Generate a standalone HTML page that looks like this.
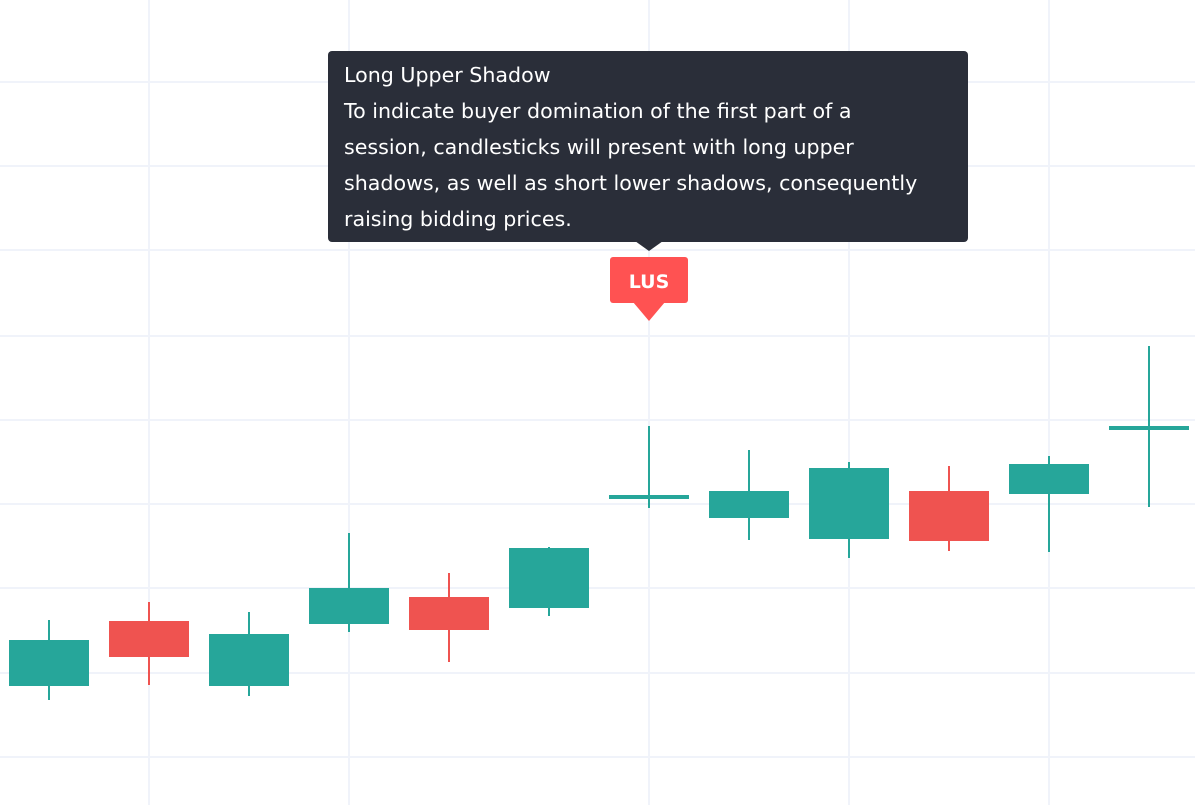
<!DOCTYPE html>
<html><head><meta charset="utf-8"><style>
html,body{margin:0;padding:0;background:#fff;width:1195px;height:805px;overflow:hidden}
svg{display:block}
.tt{position:absolute;left:328px;top:51px;width:640px;height:191px;background:#2a2e39;border-radius:4px;color:#fff;font-family:"DejaVu Sans","Liberation Sans",sans-serif;font-size:20.6px;line-height:36px;box-sizing:border-box;padding:6px 16px;white-space:nowrap}
</style></head><body>
<svg id="chart" width="1195" height="805"></svg>
<div class="tt"><div>Long Upper Shadow</div><div>To indicate buyer domination of the first part of a<br>session, candlesticks will present with long upper<br>shadows, as well as short lower shadows, consequently<br>raising bidding prices.</div></div>
<script>
const opens  = [114,179,114,176,203,192,301,282,261,309,306,371];
const closes = [160,143,166,212,170,252,305,309,332,259,336,374];
const highs  = [180,198,188,267,227,253,374,350,338,334,344,454];
const lows   = [100,115,104,168,138,184,292,260,242,249,248,293];
const hGrid = [43,127,212,296,380,464,550,634,718];
const vGridIdx = [1,3,6,8,10];
const NS='http://www.w3.org/2000/svg';
const svg=document.getElementById('chart');
const y=v=>800-v;
const x=i=>49+100*i;
function mk(t,a){const e=document.createElementNS(NS,t);for(const k in a)e.setAttribute(k,a[k]);svg.appendChild(e);return e;}
hGrid.forEach(v=>{const l=mk('line',{x1:0,x2:1195,y1:y(v),y2:y(v),stroke:'#f0f3fa','stroke-width':2});

});
vGridIdx.forEach(i=>{const l=mk('line',{x1:x(i),x2:x(i),y1:0,y2:805,stroke:'#f0f3fa','stroke-width':2});

});
opens.forEach((o,i)=>{const c=closes[i];const col=c>=o?'#26a69a':'#ef5350';
const w=mk('line',{x1:x(i),x2:x(i),y1:y(highs[i]),y2:y(lows[i]),stroke:col,'stroke-width':2});


const t=Math.max(o,c),b=Math.min(o,c);
const r=mk('rect',{x:x(i)-40,y:y(t),width:80,height:Math.max(4,t-b),fill:col});

});
const mi=6;
const g=mk('g',{});


const mr=document.createElementNS(NS,'rect');
[['x',x(mi)-39],['y',257],['width',78],['height',46],['rx',3],['fill','#ff5252']].forEach(a=>mr.setAttribute(a[0],a[1]));g.appendChild(mr);
const mp=document.createElementNS(NS,'path');mp.setAttribute('d',`M${x(mi)-16} 302 L${x(mi)} 321 L${x(mi)+16} 302 Z`);mp.setAttribute('fill','#ff5252');g.appendChild(mp);
const mt=document.createElementNS(NS,'text');
[['x',x(mi)],['y',288],['text-anchor','middle'],['fill','#fff'],['font-family','DejaVu Sans, sans-serif'],['font-size','19'],['font-weight','bold']].forEach(a=>mt.setAttribute(a[0],a[1]));mt.textContent='LUS';g.appendChild(mt);
const ta=mk('path',{d:`M${x(mi)-14} 241 L${x(mi)} 251 L${x(mi)+14} 241 Z`,fill:'#2a2e39'});


</script>
</body></html>
